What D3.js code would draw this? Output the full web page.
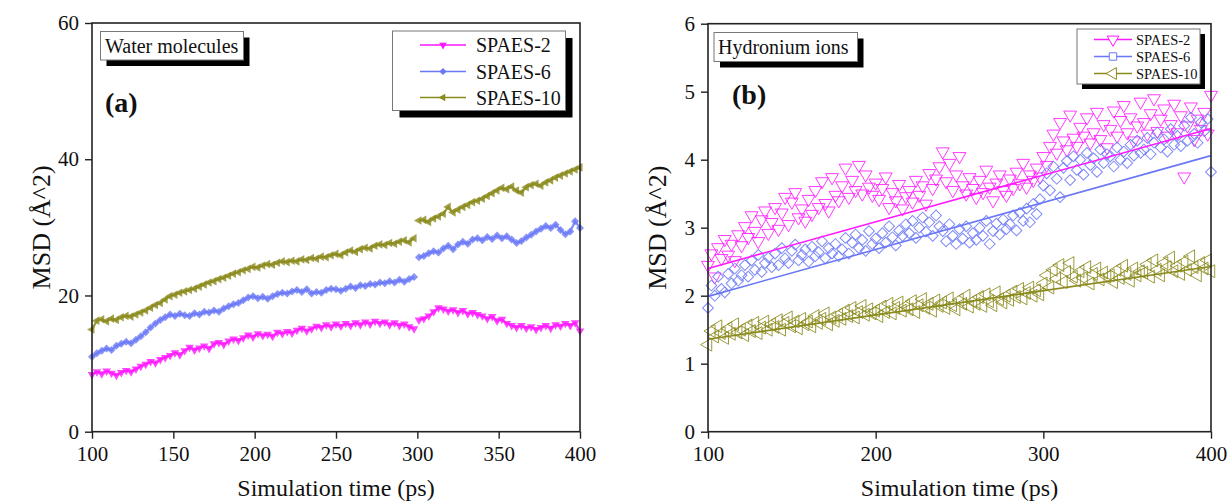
<!DOCTYPE html>
<html>
<head>
<meta charset="utf-8">
<script src="https://cdn.jsdelivr.net/npm/d3@7"></script>
<style>
  html, body { margin: 0; padding: 0; background: #fff; }
  svg { display: block; }
  text { font-family: "Liberation Serif", "Times New Roman", serif; fill: #111; }
</style>
</head>
<body>
<svg id="chart" width="1229" height="503"></svg>
<script>
// ---------- Panel (a): water molecules, sampled every 3 ps ----------
const timeA = d3.range(100, 401, 3);
const waterSPAES2 = [
  8.4, 8.8, 8.5, 8.9, 8.6, 8.3, 8.7, 9.0, 8.8, 9.2,
  9.6, 9.9, 10.3, 10.1, 10.6, 10.9, 11.2, 11.6, 11.3, 11.9,
  12.4, 12.0, 12.3, 12.6, 12.2, 12.9, 13.1, 12.8, 13.3, 13.6,
  13.4, 13.8, 14.2, 13.9, 14.4, 14.1, 14.3, 14.0, 14.6, 14.4,
  14.7, 14.5, 14.9, 15.2, 14.8, 15.1, 15.5, 15.3, 15.7, 15.4,
  15.8, 15.5, 15.9, 15.6, 16.0, 15.7, 16.1, 15.8, 16.2, 15.9,
  16.1, 15.7, 16.0, 15.6, 15.8, 15.4, 15.1, 16.4, 16.6, 17.0,
  17.6, 18.2, 18.0, 17.7, 17.9, 17.5, 17.8, 17.3, 17.5, 17.2,
  17.0, 16.6, 16.9, 16.3, 16.5, 15.9, 15.6, 15.3, 15.6, 15.2,
  15.4, 15.0, 15.3, 15.6, 15.2, 15.7, 15.5, 15.9, 15.6, 16.0,
  14.8
];
const waterSPAES6 = [
  11.0, 11.5, 11.9, 12.2, 12.0, 12.6, 12.9, 13.2, 13.0, 13.5,
  14.0, 14.6, 15.3, 15.9, 16.4, 16.8, 17.2, 17.0, 17.3, 17.1,
  17.0, 17.4, 17.2, 17.6, 17.5, 17.8, 17.6, 18.1, 18.4, 18.7,
  18.9, 19.3, 19.7, 19.9, 19.6, 19.8, 19.5, 19.9, 20.2, 20.4,
  20.3, 20.6, 20.8, 20.5, 20.9, 20.3, 20.5, 20.4, 20.8, 21.0,
  20.9, 20.7, 21.0, 21.3, 21.1, 21.5, 21.4, 21.7, 21.6, 21.9,
  21.8, 22.1, 21.9, 22.3, 22.0, 22.4, 22.7, 25.6, 25.8, 26.2,
  26.5, 26.3, 26.9, 27.3, 26.8, 27.5, 27.9, 27.6, 28.2, 28.4,
  28.1, 28.6, 28.3, 28.8, 28.4, 28.7, 28.2, 27.7, 28.0, 28.5,
  28.9, 29.4, 29.8, 30.2, 29.9, 30.4, 29.6, 29.0, 29.4, 30.9,
  29.9
];
const waterSPAES10 = [
  15.0, 16.3, 16.5, 16.2, 16.6, 16.4, 16.8, 17.0, 16.9, 17.2,
  17.5, 17.8, 18.2, 18.6, 18.9, 19.4, 19.9, 20.1, 20.4, 20.6,
  20.8, 21.0, 21.3, 21.6, 21.9, 22.1, 22.4, 22.6, 22.9, 23.2,
  23.4, 23.7, 23.9, 24.2, 24.1, 24.4, 24.6, 24.5, 24.8, 25.0,
  24.9, 25.1, 25.0, 25.3, 25.2, 25.5, 25.4, 25.7, 25.6, 25.9,
  26.1, 25.9, 26.3, 26.6, 26.4, 26.8, 27.0, 26.9, 27.3, 27.5,
  27.4, 27.7, 27.6, 27.9, 28.1, 27.8, 28.4, 31.0, 31.1, 30.8,
  31.3, 31.6, 32.0, 33.0, 32.2, 32.6, 33.0, 33.3, 33.7, 33.9,
  34.2, 34.6, 35.0, 35.4, 35.8, 35.6, 36.0, 35.4, 35.1, 35.9,
  36.2, 36.4, 36.1, 36.6, 36.9, 37.3, 37.6, 37.9, 38.2, 38.5,
  38.8
];

// ---------- Panel (b): hydronium ions, sampled every 2 ps ----------
const timeB = d3.range(100, 401, 2);
const ionSPAES2 = [
  2.45, 2.62, 2.28, 2.71, 2.55, 2.83, 2.60, 2.76, 2.52, 2.90,
  2.74, 3.02, 2.86, 3.18, 2.95, 2.80, 3.12, 3.25, 2.92, 3.08,
  3.30, 2.98, 3.22, 3.45, 3.05, 3.38, 3.52, 3.15, 3.28, 3.10,
  3.42, 3.20, 3.55, 3.30, 3.68, 3.36, 3.25, 3.74, 3.48, 3.40,
  3.62, 3.88, 3.45, 3.70, 3.55, 3.92, 3.50, 3.78, 3.60, 3.48,
  3.66, 3.42, 3.58, 3.75, 3.30, 3.52, 3.40, 3.64, 3.28, 3.46,
  3.55, 3.38, 3.70, 3.48, 3.62, 3.35, 3.80, 3.58, 3.72, 3.90,
  4.12, 3.68, 3.95, 3.55, 3.78, 4.05, 3.62, 3.50, 3.74, 3.58,
  3.45, 3.70, 3.52, 3.85, 3.60, 3.40, 3.66, 3.78, 3.55, 3.48,
  3.72, 3.58, 3.82, 3.65, 3.95, 3.60, 3.78, 3.70, 3.88, 3.75,
  4.05, 3.92, 4.20, 4.38, 4.10, 4.55, 4.28, 4.15, 4.66, 4.32,
  4.20, 4.48, 4.35, 4.62, 4.25, 4.40, 4.70, 4.30, 4.52, 4.18,
  4.45, 4.72, 4.35, 4.58, 4.80, 4.40, 4.62, 4.28, 4.50, 4.85,
  4.55, 4.38, 4.68, 4.90, 4.42, 4.60, 4.75, 4.35, 4.52, 4.82,
  4.40, 4.65, 3.75, 4.50, 4.78, 4.30, 4.60, 4.45, 4.70, 4.38,
  4.95
];
const ionSPAES6 = [
  1.82, 2.15, 2.00, 2.28, 2.10, 2.05, 2.32, 2.18, 2.40, 2.22,
  2.30, 2.45, 2.28, 2.52, 2.38, 2.60, 2.35, 2.48, 2.56, 2.42,
  2.62, 2.45, 2.70, 2.55, 2.48, 2.66, 2.75, 2.52, 2.60, 2.68,
  2.50, 2.72, 2.58, 2.64, 2.80, 2.55, 2.70, 2.62, 2.76, 2.58,
  2.68, 2.85, 2.62, 2.78, 2.90, 2.70, 2.82, 2.66, 2.95, 2.76,
  2.84, 2.70, 2.92, 2.78, 3.02, 2.86, 2.74, 2.96, 2.88, 3.05,
  2.92, 3.10, 2.85, 3.00, 3.15, 2.94, 3.08, 2.88, 3.18, 3.02,
  2.95, 2.80, 3.05, 2.88, 2.76, 2.98, 2.84, 3.02, 2.78, 2.92,
  2.82, 3.00, 2.88, 3.10, 2.76, 2.95, 3.06, 2.90, 3.12, 2.98,
  3.05, 3.18, 2.96, 3.22, 3.10, 3.28, 3.08, 3.35, 3.20, 3.42,
  3.62, 3.80, 3.55, 3.90, 3.72, 3.45, 3.88, 3.98, 3.70, 4.05,
  3.85, 4.00, 3.78, 4.10, 3.92, 4.02, 3.82, 4.15, 3.95, 4.08,
  4.05, 3.90, 4.18, 4.00, 4.12, 3.95, 4.22, 4.06, 4.28, 4.10,
  4.15, 4.32, 4.08, 4.25, 4.40, 4.18, 4.30, 4.12, 4.45, 4.22,
  4.35, 4.20, 4.50, 4.28, 4.62, 4.38, 4.25, 4.55, 4.42, 4.60,
  3.82
];
const ionSPAES10 = [
  1.28, 1.48, 1.40, 1.55, 1.45, 1.38, 1.52, 1.44, 1.58, 1.46,
  1.50, 1.42, 1.56, 1.48, 1.60, 1.45, 1.53, 1.62, 1.50, 1.58,
  1.54, 1.64, 1.50, 1.60, 1.68, 1.55, 1.62, 1.52, 1.66, 1.58,
  1.62, 1.55, 1.70, 1.60, 1.66, 1.74, 1.58, 1.68, 1.63, 1.72,
  1.66, 1.78, 1.70, 1.82, 1.68, 1.76, 1.85, 1.72, 1.80, 1.74,
  1.78, 1.70, 1.84, 1.76, 1.88, 1.74, 1.82, 1.90, 1.78, 1.85,
  1.80, 1.92, 1.76, 1.86, 1.95, 1.82, 1.88, 1.78, 1.93, 1.85,
  1.90, 1.82, 1.96, 1.86, 1.80, 1.94, 1.88, 2.00, 1.84, 1.92,
  1.88, 1.98, 1.85, 2.02, 1.92, 1.86, 2.05, 1.95, 1.90, 2.00,
  1.94, 2.06, 1.98, 2.10, 1.96, 2.04, 2.12, 2.00, 2.08, 2.02,
  2.18, 2.30, 2.12, 2.38, 2.25, 2.45, 2.20, 2.35, 2.48, 2.28,
  2.22, 2.36, 2.26, 2.42, 2.18, 2.32, 2.40, 2.24, 2.34, 2.28,
  2.30, 2.20, 2.38, 2.26, 2.44, 2.32, 2.22, 2.40, 2.30, 2.36,
  2.34, 2.46, 2.28, 2.52, 2.38, 2.30, 2.48, 2.42, 2.56, 2.36,
  2.44, 2.32, 2.50, 2.38, 2.58, 2.42, 2.30, 2.48, 2.40, 2.52,
  2.36
];
// linear fits (MSD at 100 ps and at 400 ps)
const fitSPAES2 = [2.40, 4.46];
const fitSPAES6 = [1.99, 4.06];
const fitSPAES10 = [1.36, 2.43];

const seriesNames = ["SPAES-2", "SPAES-6", "SPAES-10"];
const xTicksA = [100, 150, 200, 250, 300, 350, 400];
const yTicksA = [0, 20, 40, 60];
const xTicksB = [100, 200, 300, 400];
const yTicksB = [0, 1, 2, 3, 4, 5, 6];

const colors = ["#ff19ff", "#6a78f6", "#8a8a1c"];
const FONT = '"Liberation Serif", "Times New Roman", serif';

const svg = d3.select("#chart");

// marker shapes: down triangle, diamond, left triangle
function markerPath(kind, size) {
  if (kind === 0) return { d: d3.symbol(d3.symbolTriangle, size)(), rot: 180 };
  if (kind === 1) return { d: d3.symbol(d3.symbolSquare, size)(), rot: 45 };
  return { d: d3.symbol(d3.symbolTriangle, size)(), rot: -90 };
}

function drawFrame(g, x, y, xTicks, yTicks) {
  const [x0, x1] = x.range();
  const [y1, y0] = y.range();
  const xa = g.append("g").attr("transform", `translate(0,${y1})`)
    .call(d3.axisBottom(x).tickValues(xTicks).tickFormat(d3.format("d"))
      .tickSize(7).tickSizeOuter(0).tickPadding(7));
  const ya = g.append("g").attr("transform", `translate(${x0},0)`)
    .call(d3.axisLeft(y).tickValues(yTicks).tickFormat(d3.format("d"))
      .tickSize(7).tickSizeOuter(0).tickPadding(6));
  [xa, ya].forEach(a => {
    a.select(".domain").remove();
    a.selectAll("line").attr("stroke", "#222").attr("stroke-width", 1.4);
    a.selectAll("text").attr("font-family", FONT).attr("font-size", 21).attr("fill", "#111");
  });
  g.append("rect").attr("x", x0).attr("y", y0).attr("width", x1 - x0).attr("height", y1 - y0)
    .attr("fill", "none").attr("stroke", "#222").attr("stroke-width", 1.6);
}

function shadowBox(g, x, y, w, h, off) {
  g.append("rect").attr("x", x + off).attr("y", y + off).attr("width", w).attr("height", h).attr("fill", "#000");
  g.append("rect").attr("x", x).attr("y", y).attr("width", w).attr("height", h)
    .attr("fill", "#fff").attr("stroke", "#777").attr("stroke-width", 1);
}

function axisTitles(g, x, y, ylx) {
  const [x0, x1] = x.range();
  const [y1, y0] = y.range();
  g.append("text").attr("x", (x0 + x1) / 2).attr("y", 496).attr("text-anchor", "middle")
    .attr("font-size", 24).text("Simulation time (ps)");
  g.append("text").attr("transform", `translate(${ylx},${(y0 + y1) / 2}) rotate(-90)`)
    .attr("text-anchor", "middle").attr("font-size", 26).text("MSD (Å^2)");
}

// ---------- Panel (a) ----------
{
  const g = svg.append("g");
  const x = d3.scaleLinear().domain([100, 400]).range([92, 580]);
  const y = d3.scaleLinear().domain([0, 60]).range([431.7, 23]);
  const data = [waterSPAES2, waterSPAES6, waterSPAES10];
  const line = d3.line().x(d => x(d[0])).y(d => y(d[1]));
  data.forEach((vals, i) => {
    const pts = timeA.map((t, j) => [t, vals[j]]);
    const parts = [pts.filter(p => p[0] < 300), pts.filter(p => p[0] >= 300)];
    parts.forEach(part => {
      g.append("path").datum(part).attr("d", line).attr("fill", "none")
        .attr("stroke", colors[i]).attr("stroke-width", 2.2).attr("opacity", 0.85);
    });
    const m = markerPath(i, 32);
    g.append("g").selectAll("path").data(pts).join("path")
      .attr("d", m.d)
      .attr("transform", d => `translate(${x(d[0])},${y(d[1])}) rotate(${m.rot})`)
      .attr("fill", colors[i]).attr("opacity", 0.8);
  });
  drawFrame(g, x, y, xTicksA, yTicksA);
  axisTitles(g, x, y, 50);

  // title box
  shadowBox(g, 100.5, 31.5, 143, 28.5, 6);
  g.append("text").attr("x", 105).attr("y", 53).attr("font-size", 20).text("Water molecules");
  g.append("text").attr("x", 105).attr("y", 112).attr("font-size", 28).attr("font-weight", "bold").text("(a)");

  // legend
  shadowBox(g, 392.5, 31, 173, 79.5, 7);
  const rows = [45, 71.5, 97.5];
  seriesNames.forEach((name, i) => {
    g.append("line").attr("x1", 420).attr("x2", 466).attr("y1", rows[i]).attr("y2", rows[i])
      .attr("stroke", colors[i]).attr("stroke-width", 1.6);
    const m = markerPath(i, 26);
    g.append("path").attr("d", m.d)
      .attr("transform", `translate(443,${rows[i]}) rotate(${m.rot})`).attr("fill", colors[i]);
    g.append("text").attr("x", 476).attr("y", rows[i] + 7).attr("font-size", 20).text(name);
  });
}

// ---------- Panel (b) ----------
{
  const g = svg.append("g");
  const x = d3.scaleLinear().domain([100, 400]).range([708, 1211]);
  const y = d3.scaleLinear().domain([0, 6]).range([431.7, 23.7]);
  const data = [ionSPAES2, ionSPAES6, ionSPAES10];
  const fits = [fitSPAES2, fitSPAES6, fitSPAES10];
  data.forEach((vals, i) => {
    const pts = timeB.map((t, j) => [t, vals[j]]);
    const m = markerPath(i, i === 1 ? 58 : 72);
    g.append("g").selectAll("path").data(pts).join("path")
      .attr("d", m.d)
      .attr("transform", d => `translate(${x(d[0])},${y(d[1])}) rotate(${m.rot})`)
      .attr("fill", "none").attr("stroke", colors[i]).attr("stroke-width", 1).attr("opacity", 0.85);
  });
  fits.forEach((f, i) => {
    g.append("line").attr("x1", x(100)).attr("x2", x(400)).attr("y1", y(f[0])).attr("y2", y(f[1]))
      .attr("stroke", colors[i]).attr("stroke-width", 1.6);
  });
  drawFrame(g, x, y, xTicksB, yTicksB);
  axisTitles(g, x, y, 666);

  shadowBox(g, 714, 32.5, 143.5, 29, 6);
  g.append("text").attr("x", 718).attr("y", 54).attr("font-size", 20).text("Hydronium ions");
  g.append("text").attr("x", 732).attr("y", 104).attr("font-size", 28).attr("font-weight", "bold").text("(b)");

  shadowBox(g, 1077, 29, 123, 55, 5);
  const rows = [39.5, 56.5, 73.5];
  seriesNames.forEach((name, i) => {
    g.append("line").attr("x1", 1094).attr("x2", 1132).attr("y1", rows[i]).attr("y2", rows[i])
      .attr("stroke", colors[i]).attr("stroke-width", 1.4);
    const m = i === 1 ? { d: d3.symbol(d3.symbolSquare, 55)(), rot: 0 } : markerPath(i, 60);
    g.append("path").attr("d", m.d)
      .attr("transform", `translate(1113,${rows[i]}) rotate(${m.rot})`)
      .attr("fill", "#fff").attr("stroke", colors[i]).attr("stroke-width", 1);
    g.append("text").attr("x", 1136).attr("y", rows[i] + 5).attr("font-size", 14.5).text(name);
  });
}
</script>
</body>
</html>
